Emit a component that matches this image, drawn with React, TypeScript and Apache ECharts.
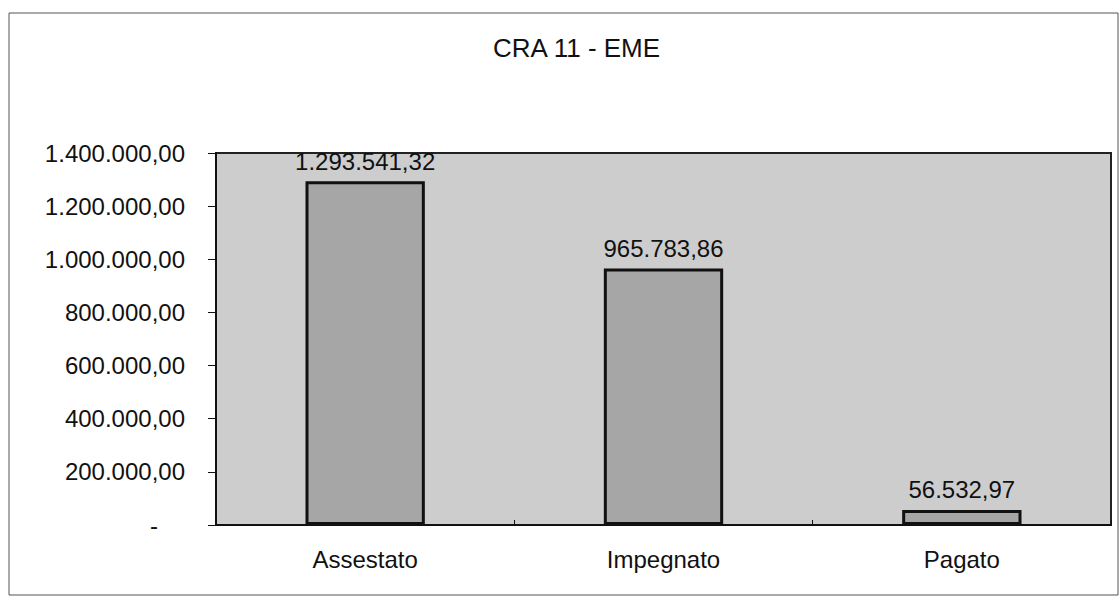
import React, { useEffect, useRef } from "react";
import * as echarts from "echarts";

const categories: string[] = ["Assestato", "Impegnato", "Pagato"];
const values: number[] = [1293541.32, 965783.86, 56532.97];
const titleText = "CRA 11 - EME";
const yMin = 0;
const yMax = 1400000;
const yInterval = 200000;

const FONT = "'Liberation Sans', Arial, sans-serif";

function fmtIt(v: number, decimals = 2): string {
  const neg = v < 0;
  const abs = Math.abs(v);
  const fixed = abs.toFixed(decimals);
  const [intPart, dec] = fixed.split(".");
  const withDots = intPart.replace(/\B(?=(\d{3})+(?!\d))/g, ".");
  return (neg ? "-" : "") + withDots + (dec ? "," + dec : "");
}

export default function App() {
  const ref = useRef<HTMLDivElement>(null);
  useEffect(() => {
    if (!ref.current) return;
    const chart = echarts.init(ref.current, undefined, { renderer: "svg" });
    chart.setOption({
      animation: false,
      backgroundColor: "#ffffff",
      textStyle: { fontFamily: FONT },
      title: {
        text: titleText,
        left: 488,
        top: 30,
        textStyle: { fontFamily: FONT, fontSize: 26, fontWeight: "normal", color: "#111" },
      },
      graphic: [
        {
          type: "rect",
          shape: { x: 9, y: 13, width: 1109, height: 582 },
          style: { fill: "none", stroke: "#555", lineWidth: 1 },
          silent: true,
          z: -1,
        },
      ],
      grid: {
        left: 216,
        right: 9,
        top: 153,
        bottom: 71,
        show: true,
        backgroundColor: "#cdcdcd",
        borderColor: "#222",
        borderWidth: 2,
      },
      xAxis: {
        type: "category",
        data: categories,
        axisLine: { show: true, lineStyle: { color: "#111", width: 2 } },
        axisTick: { show: true, inside: true, length: 5, lineStyle: { color: "#111" } },
        axisLabel: {
          margin: 22,
          fontFamily: FONT,
          fontSize: 24,
          color: "#111",
        },
        splitLine: { show: false },
      },
      yAxis: {
        type: "value",
        min: yMin,
        max: yMax,
        interval: yInterval,
        axisLine: { show: true, lineStyle: { color: "#111", width: 2 } },
        axisTick: { show: true, inside: false, length: 8, lineStyle: { color: "#111" } },
        splitLine: { show: false },
        axisLabel: {
          margin: 31,
          fontFamily: FONT,
          fontSize: 24,
          color: "#111",
          formatter: (v: number) => (v === 0 ? "{z|-}" : fmtIt(v)),
          rich: {
            z: { fontFamily: FONT, fontSize: 24, color: "#111", padding: [0, 27, 0, 0] },
          },
        },
      },
      series: [
        {
          type: "bar",
          data: values,
          barWidth: "40%",
          itemStyle: { color: "#a6a6a6", borderColor: "#111", borderWidth: 3 },
          label: {
            show: true,
            position: "top",
            distance: 8,
            fontFamily: FONT,
            fontSize: 24,
            color: "#111",
            formatter: (p: any) => fmtIt(p.value),
          },
        },
      ],
    });
    return () => chart.dispose();
  }, []);
  return (
    <div
      ref={ref}
      style={{ position: "fixed", left: 0, top: 0, width: 1120, height: 596 }}
    />
  );
}
